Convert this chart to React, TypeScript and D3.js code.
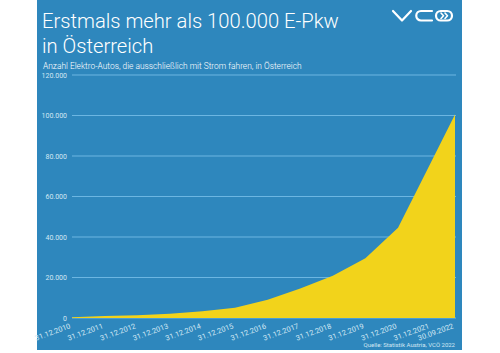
import * as d3 from "d3";

// Elektro-Pkw Bestand in Österreich (Statistik Austria)
const dates = [
  "2010-12-31", "2011-12-31", "2012-12-31", "2013-12-31", "2014-12-31", "2015-12-31",
  "2016-12-31", "2017-12-31", "2018-12-31", "2019-12-31", "2020-12-31", "2021-12-31",
  "2022-09-30",
];
const dateLabels = [
  "31.12.2010", "31.12.2011", "31.12.2012", "31.12.2013", "31.12.2014", "31.12.2015",
  "31.12.2016", "31.12.2017", "31.12.2018", "31.12.2019", "31.12.2020", "31.12.2021",
  "30.09.2022",
];
const values = [353, 989, 1389, 2070, 3386, 5032, 9073, 14618, 20831, 29523, 44507, 76539, 100500];
const yTicks = [0, 20000, 40000, 60000, 80000, 100000, 120000];

const BLUE = "#2e87bd";
const YELLOW = "#f2d31b";
const GRID = "#6cb6e2";
const FONT = "'Roboto', 'Liberation Sans', Arial, sans-serif";

type Pt = { date: Date; val: number };

export default function App() {
  const width = 500;
  const height = 353;
  const parse = d3.timeParse("%Y-%m-%d");
  const data: Pt[] = dates.map((d, i) => ({ date: parse(d)!, val: values[i] }));

  const x = d3.scaleTime()
    .domain(d3.extent(data, d => d.date) as [Date, Date])
    .range([72, 455]);
  const y = d3.scaleLinear().domain([0, 120000]).range([318, 75]);

  const area = d3.area<Pt>()
    .x(d => x(d.date))
    .y0(y(0))
    .y1(d => y(d.val));

  const fmt = (v: number) => (v === 0 ? "0" : d3.format(",")(v).replace(/,/g, "."));

  return (
    <svg width={width} height={height} style={{ position: "absolute", left: 0, top: 0 }}>
      <rect x={0} y={0} width={width} height={height} fill="#fff" />
      <rect x={37} y={0} width={425} height={350} fill={BLUE} />

      {/* Titel */}
      <text x={42} y={28} fill="#fff" fontFamily={FONT} fontWeight={300} fontSize={20.2}>
        Erstmals mehr als 100.000 E-Pkw
      </text>
      <text x={42} y={53} fill="#fff" fontFamily={FONT} fontWeight={300} fontSize={20.2}>
        in Österreich
      </text>
      <text x={43} y={69} fill="#fff" fontFamily={FONT} fontWeight={300} fontSize={8.4}>
        Anzahl Elektro-Autos, die ausschließlich mit Strom fahren, in Österreich
      </text>

      {/* Logo */}
      <g fill="none" stroke="#fff" strokeWidth={2.2} strokeLinejoin="round" strokeLinecap="round">
        <path d="M393,11 L402,20.5 L411,11" />
        <path d="M432,11 L421,11 A4.75,4.75 0 0 0 421,20.5 L432,20.5" />
        <rect x={436} y={11} width={16} height={9.5} rx={4.75} />
        <path d="M441,13 L443.5,15.75 L441,18.5 M445,13 L447.5,15.75 L445,18.5" strokeWidth={1.6} />
      </g>

      {/* Gitter & Y-Achse */}
      {yTicks.map(t => (
        <g key={t}>
          <line x1={72} x2={456} y1={y(t)} y2={y(t)} stroke={GRID} strokeWidth={1} />
          <text x={67} y={y(t) + 2.5} textAnchor="end" fill="#d4e7f4" fontFamily={FONT} fontSize={7}>
            {fmt(t)}
          </text>
        </g>
      ))}

      <path d={area(data)!} fill={YELLOW} />

      {/* X-Achse */}
      {data.map((d, i) => (
        <text
          key={i}
          transform={`translate(${x(d.date) - 1},${328}) rotate(-20)`}
          textAnchor="end"
          fill="#d4e7f4"
          fontFamily={FONT}
          fontSize={7.4}
        >
          {dateLabels[i]}
        </text>
      ))}

      <text x={455} y={347} textAnchor="end" fill="#d4e7f4" fontFamily={FONT} fontSize={6}>
        Quelle: Statistik Austria, VCÖ 2022
      </text>
    </svg>
  );
}
